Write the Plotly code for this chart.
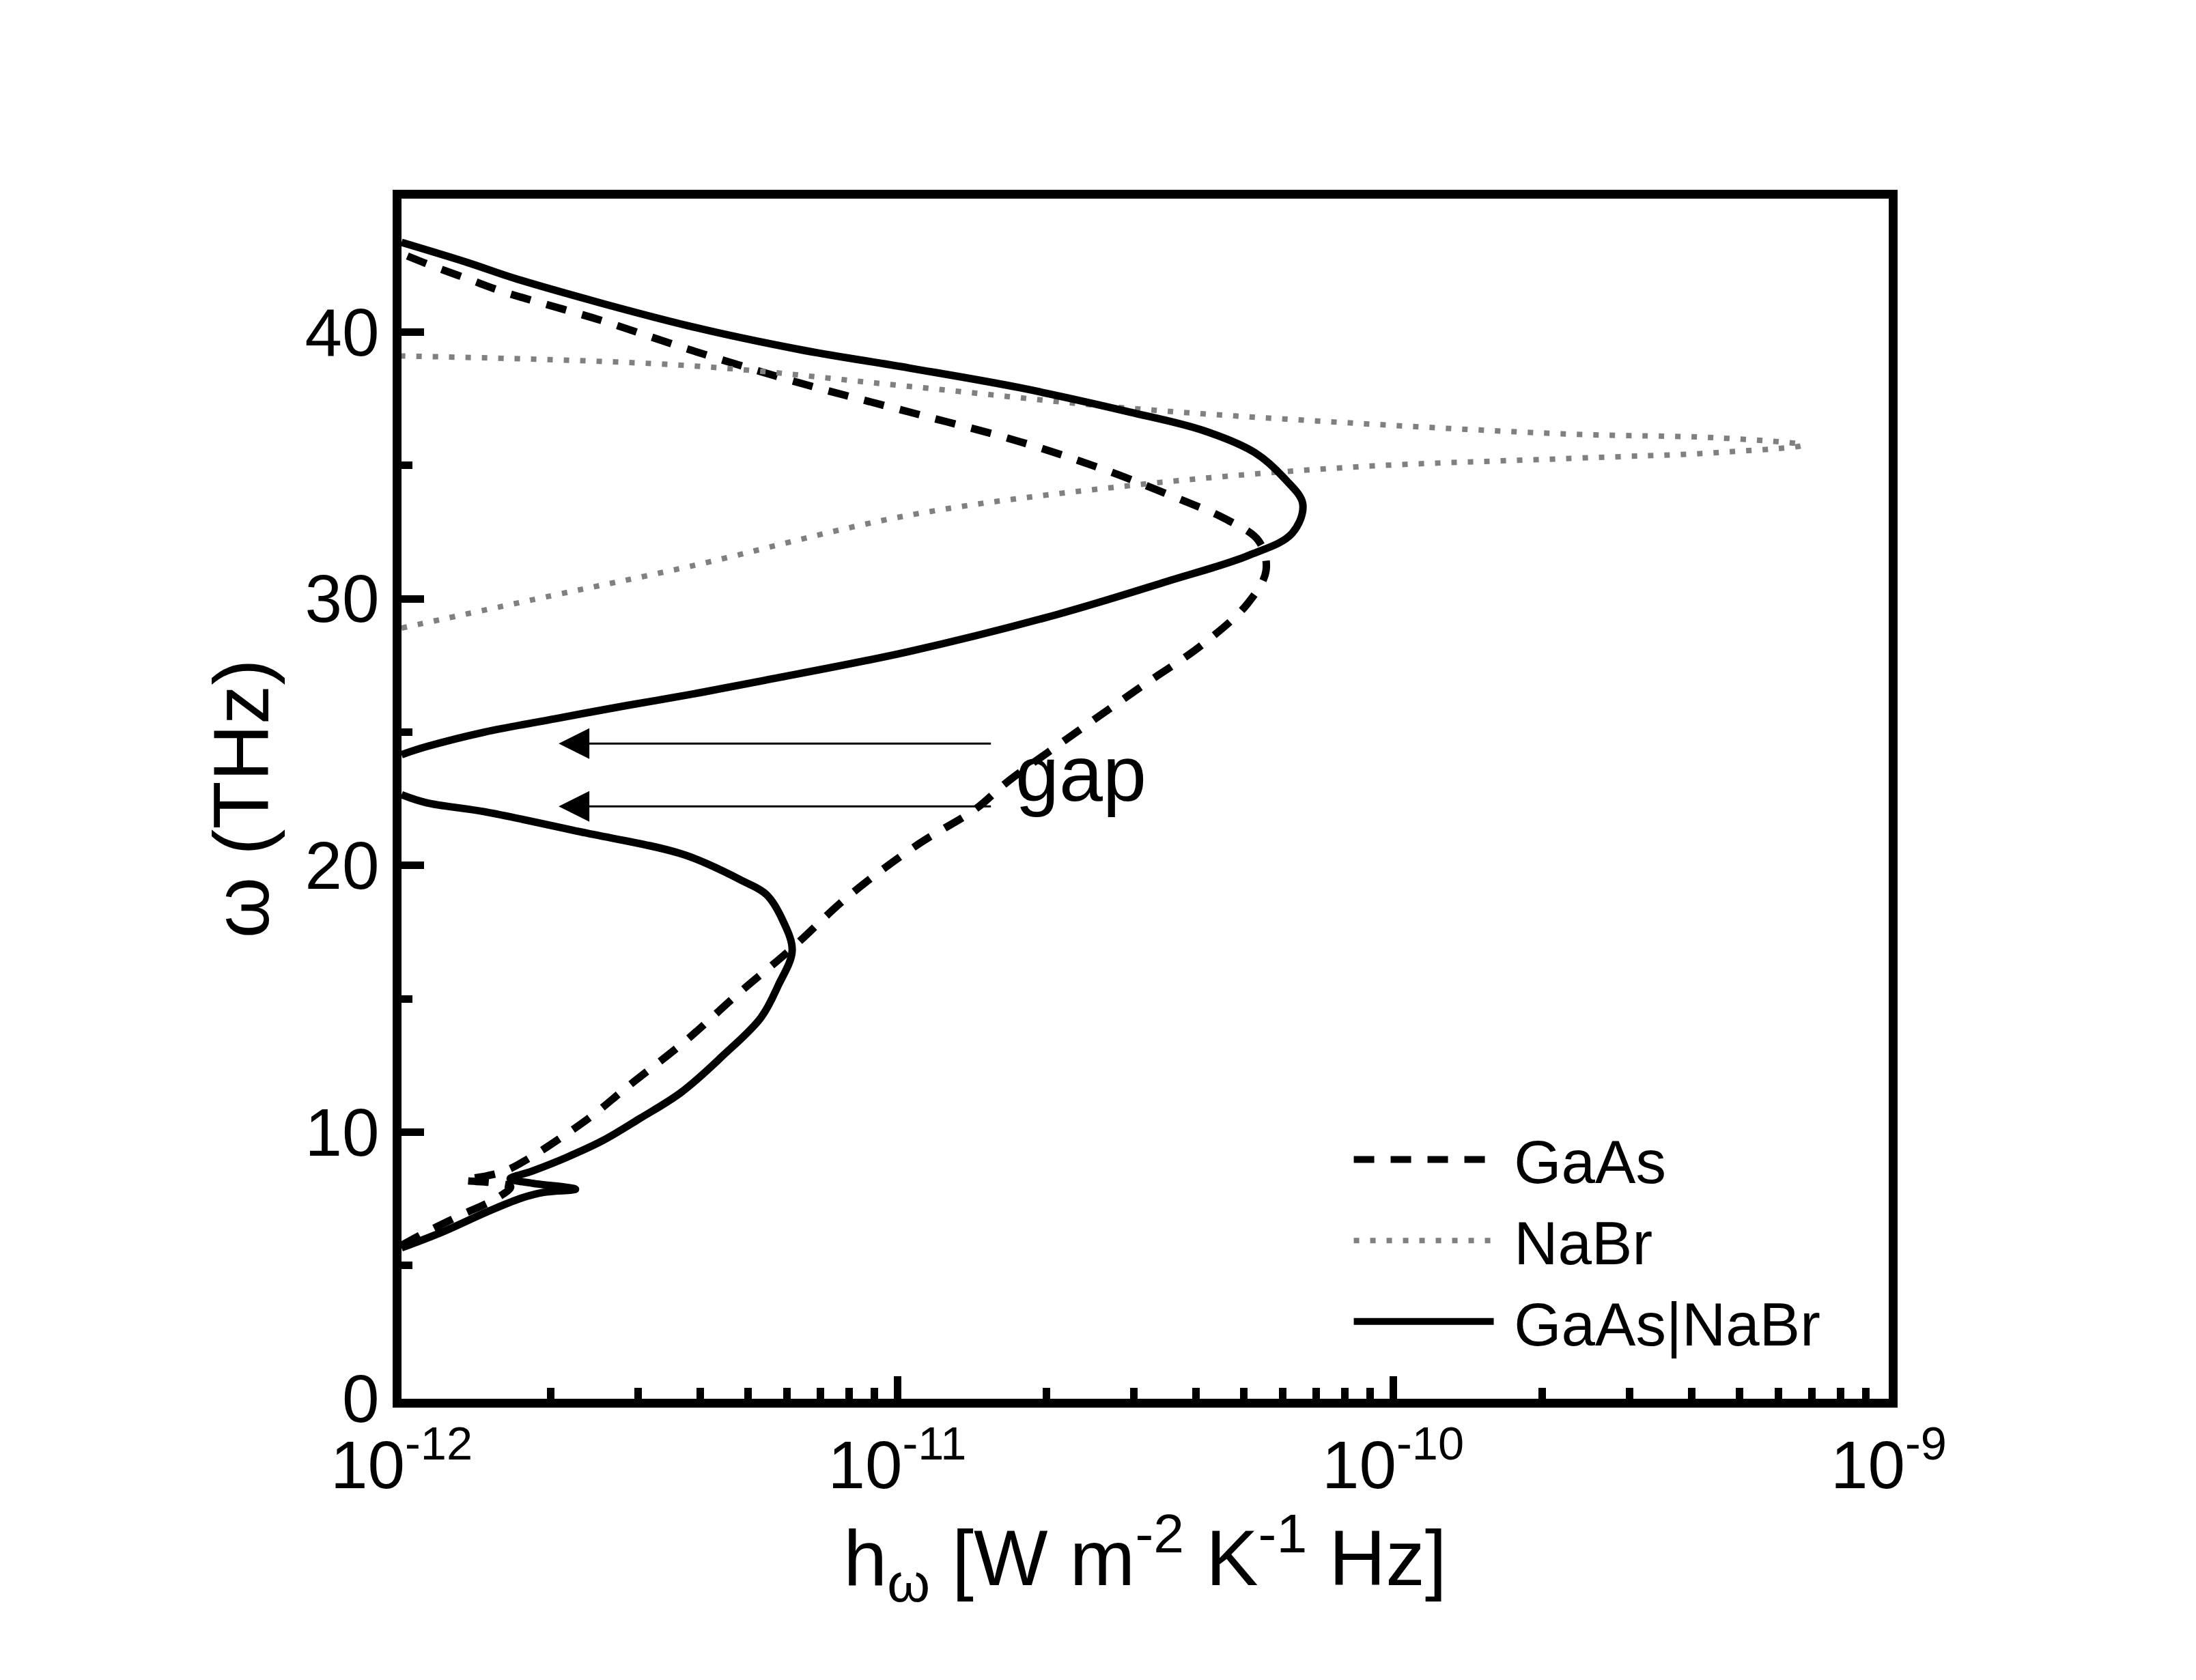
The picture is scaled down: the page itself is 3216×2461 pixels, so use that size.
import plotly.graph_objects as go

FONT = "Liberation Sans, Arial, sans-serif"

# values: omega in THz, h_omega in W m^-2 K^-1 Hz
omega_gaas = [5.75, 6.28, 6.87, 7.51, 7.95, 8.10, 8.20, 8.35, 8.55, 9.07, 9.82, 10.62,
              11.7, 13.45, 15.2, 16.85, 18.85, 20.8, 22.1, 23.1, 25.0, 26.7, 28.3,
              29.82, 31.06, 32.17, 32.99, 33.82, 34.79, 35.89, 37.0, 38.1, 39.35,
              40.45, 41.51, 41.99, 42.47, 42.94]
h_gaas = [1.0e-12, 1.130e-12, 1.312e-12, 1.552e-12, 1.660e-12, 1.531e-12, 1.334e-12,
          1.479e-12, 1.622e-12, 1.828e-12, 2.109e-12, 2.427e-12, 2.858e-12, 3.758e-12,
          4.786e-12, 6.095e-12, 7.980e-12, 1.104e-11, 1.436e-11, 1.660e-11, 2.301e-11,
          3.105e-11, 4.140e-11, 5.093e-11, 5.546e-11, 5.358e-11, 4.592e-11, 3.614e-11,
          2.661e-11, 1.766e-11, 1.057e-11, 6.324e-12, 3.793e-12, 2.512e-12, 1.603e-12,
          1.361e-12, 1.156e-12, 1.0e-12]

omega_nabr = [28.9, 30.1, 31.2, 33.13, 34.24, 34.93, 35.26, 35.48, 35.76, 36.03, 36.17,
              36.59, 37.14, 37.96, 38.74, 39.1]
h_nabr = [1.0e-12, 1.995e-12, 3.793e-12, 1.057e-11, 2.944e-11, 8.204e-11, 2.286e-10,
          4.529e-10, 6.714e-10, 4.529e-10, 2.286e-10, 8.204e-11, 2.944e-11, 1.057e-11,
          3.793e-12, 1.0e-12]

# interface curve, None marks the gap where it drops below 1e-12
omega_both = [5.66, 6.25, 7.01, 7.52, 7.74, 7.86, 8.08, 8.25, 8.54, 9.05, 9.67, 10.5,
              11.5, 12.86, 14.29, 15.5, 16.8, 17.9, 18.9, 19.4, 20.4, 21.26, 22.01,
              22.35, 22.65, None, 24.15, 24.45, 25.0, 25.5, 26.0, 26.4, 26.92, 28.02,
              29.4, 30.64, 31.61, 32.44, 33.55, 34.51, 35.48, 36.31, 37.0, 37.91, 38.65,
              39.35, 40.23, 41.96, 42.6, 43.36]
h_both = [1.0e-12, 1.208e-12, 1.489e-12, 1.742e-12, 1.936e-12, 2.244e-12, 1.837e-12,
          1.656e-12, 1.837e-12, 2.153e-12, 2.541e-12, 3.020e-12, 3.673e-12, 4.446e-12,
          5.309e-12, 5.754e-12, 6.138e-12, 5.888e-12, 5.450e-12, 4.898e-12, 3.715e-12,
          2.291e-12, 1.472e-12, 1.122e-12, 1.0e-12, None, 1.0e-12, 1.122e-12, 1.472e-12,
          2.042e-12, 2.858e-12, 3.802e-12, 5.333e-12, 1.057e-11, 2.094e-11, 3.491e-11,
          5.093e-11, 6.252e-11, 6.577e-11, 6.039e-11, 5.260e-11, 4.140e-11, 2.944e-11,
          1.766e-11, 1.057e-11, 6.324e-12, 3.793e-12, 1.726e-12, 1.361e-12, 1.0e-12]

# gap edges marked by the arrows (THz), arrows run between these log10(h) values
gap_omega = [24.57, 22.21]
arrow_from, arrow_to = -10.809, -11.683

x_tickvals = [1e-12, 1e-11, 1e-10, 1e-9]
x_ticktext = ["10<sup>-12</sup>", "10<sup>-11</sup>", "10<sup>-10</sup>", "10<sup>-9</sup>"]

NB = "\u00a0"

fig = go.Figure()
fig.add_trace(go.Scatter(x=h_gaas, y=omega_gaas, mode="lines", name=NB + "GaAs",
                         line=dict(color="black", width=11, dash="30px,24px",
                                   shape="spline", smoothing=1.0)))
fig.add_trace(go.Scatter(x=h_nabr, y=omega_nabr, mode="lines", name=NB + "NaBr",
                         line=dict(color="#808080", width=8, dash="8px,16px",
                                   shape="spline", smoothing=1.0)))
fig.add_trace(go.Scatter(x=h_both, y=omega_both, mode="lines", name=NB + "GaAs|NaBr",
                         connectgaps=False,
                         line=dict(color="black", width=11, shape="spline", smoothing=1.0)))

for w in gap_omega:
    fig.add_annotation(x=arrow_to, y=w, ax=arrow_from, ay=w, axref="x", ayref="y",
                       xref="x", yref="y", text="", showarrow=True,
                       arrowhead=2, arrowsize=3, arrowwidth=3, arrowcolor="black")
fig.add_annotation(x=-10.765, y=23.45, xref="x", yref="y", text="gap", showarrow=False,
                   xanchor="left", yanchor="middle",
                   font=dict(family=FONT, size=115, color="black"))

fig.update_layout(
    width=3216, height=2461,
    margin=dict(l=580, r=458, t=283, b=420),
    paper_bgcolor="white", plot_bgcolor="white",
    font=dict(family=FONT, color="black"),
    showlegend=True,
    legend=dict(x=0.638, y=0.236, xanchor="left", yanchor="top",
                font=dict(family=FONT, size=89, color="black"),
                bgcolor="rgba(0,0,0,0)", itemwidth=205, tracegroupgap=0),
)
fig.update_xaxes(
    type="log", range=[-12, -9],
    tickmode="array", tickvals=x_tickvals, ticktext=x_ticktext,
    ticks="inside", ticklen=33, tickwidth=11, tickcolor="black",
    minor=dict(ticks="inside", ticklen=16, tickwidth=11, tickcolor="black", dtick="D1"),
    showline=True, linewidth=13, linecolor="black", mirror=True,
    showgrid=False, zeroline=False,
    tickfont=dict(family=FONT, size=98, color="black"),
    title=dict(text="h<sub>ω</sub> [W m<sup>-2</sup> K<sup>-1</sup> Hz]",
               font=dict(family=FONT, size=115, color="black"), standoff=40),
)
fig.update_yaxes(
    range=[0, 45], tickvals=[0, 10, 20, 30, 40],
    ticks="inside", ticklen=33, tickwidth=11, tickcolor="black",
    minor=dict(ticks="inside", ticklen=16, tickwidth=11, tickcolor="black", dtick=5),
    showline=True, linewidth=13, linecolor="black", mirror=True,
    showgrid=False, zeroline=False,
    tickfont=dict(family=FONT, size=98, color="black"),
    title=dict(text="ω (THz)", font=dict(family=FONT, size=115, color="black"), standoff=20),
)

fig.write_html("out.html")
